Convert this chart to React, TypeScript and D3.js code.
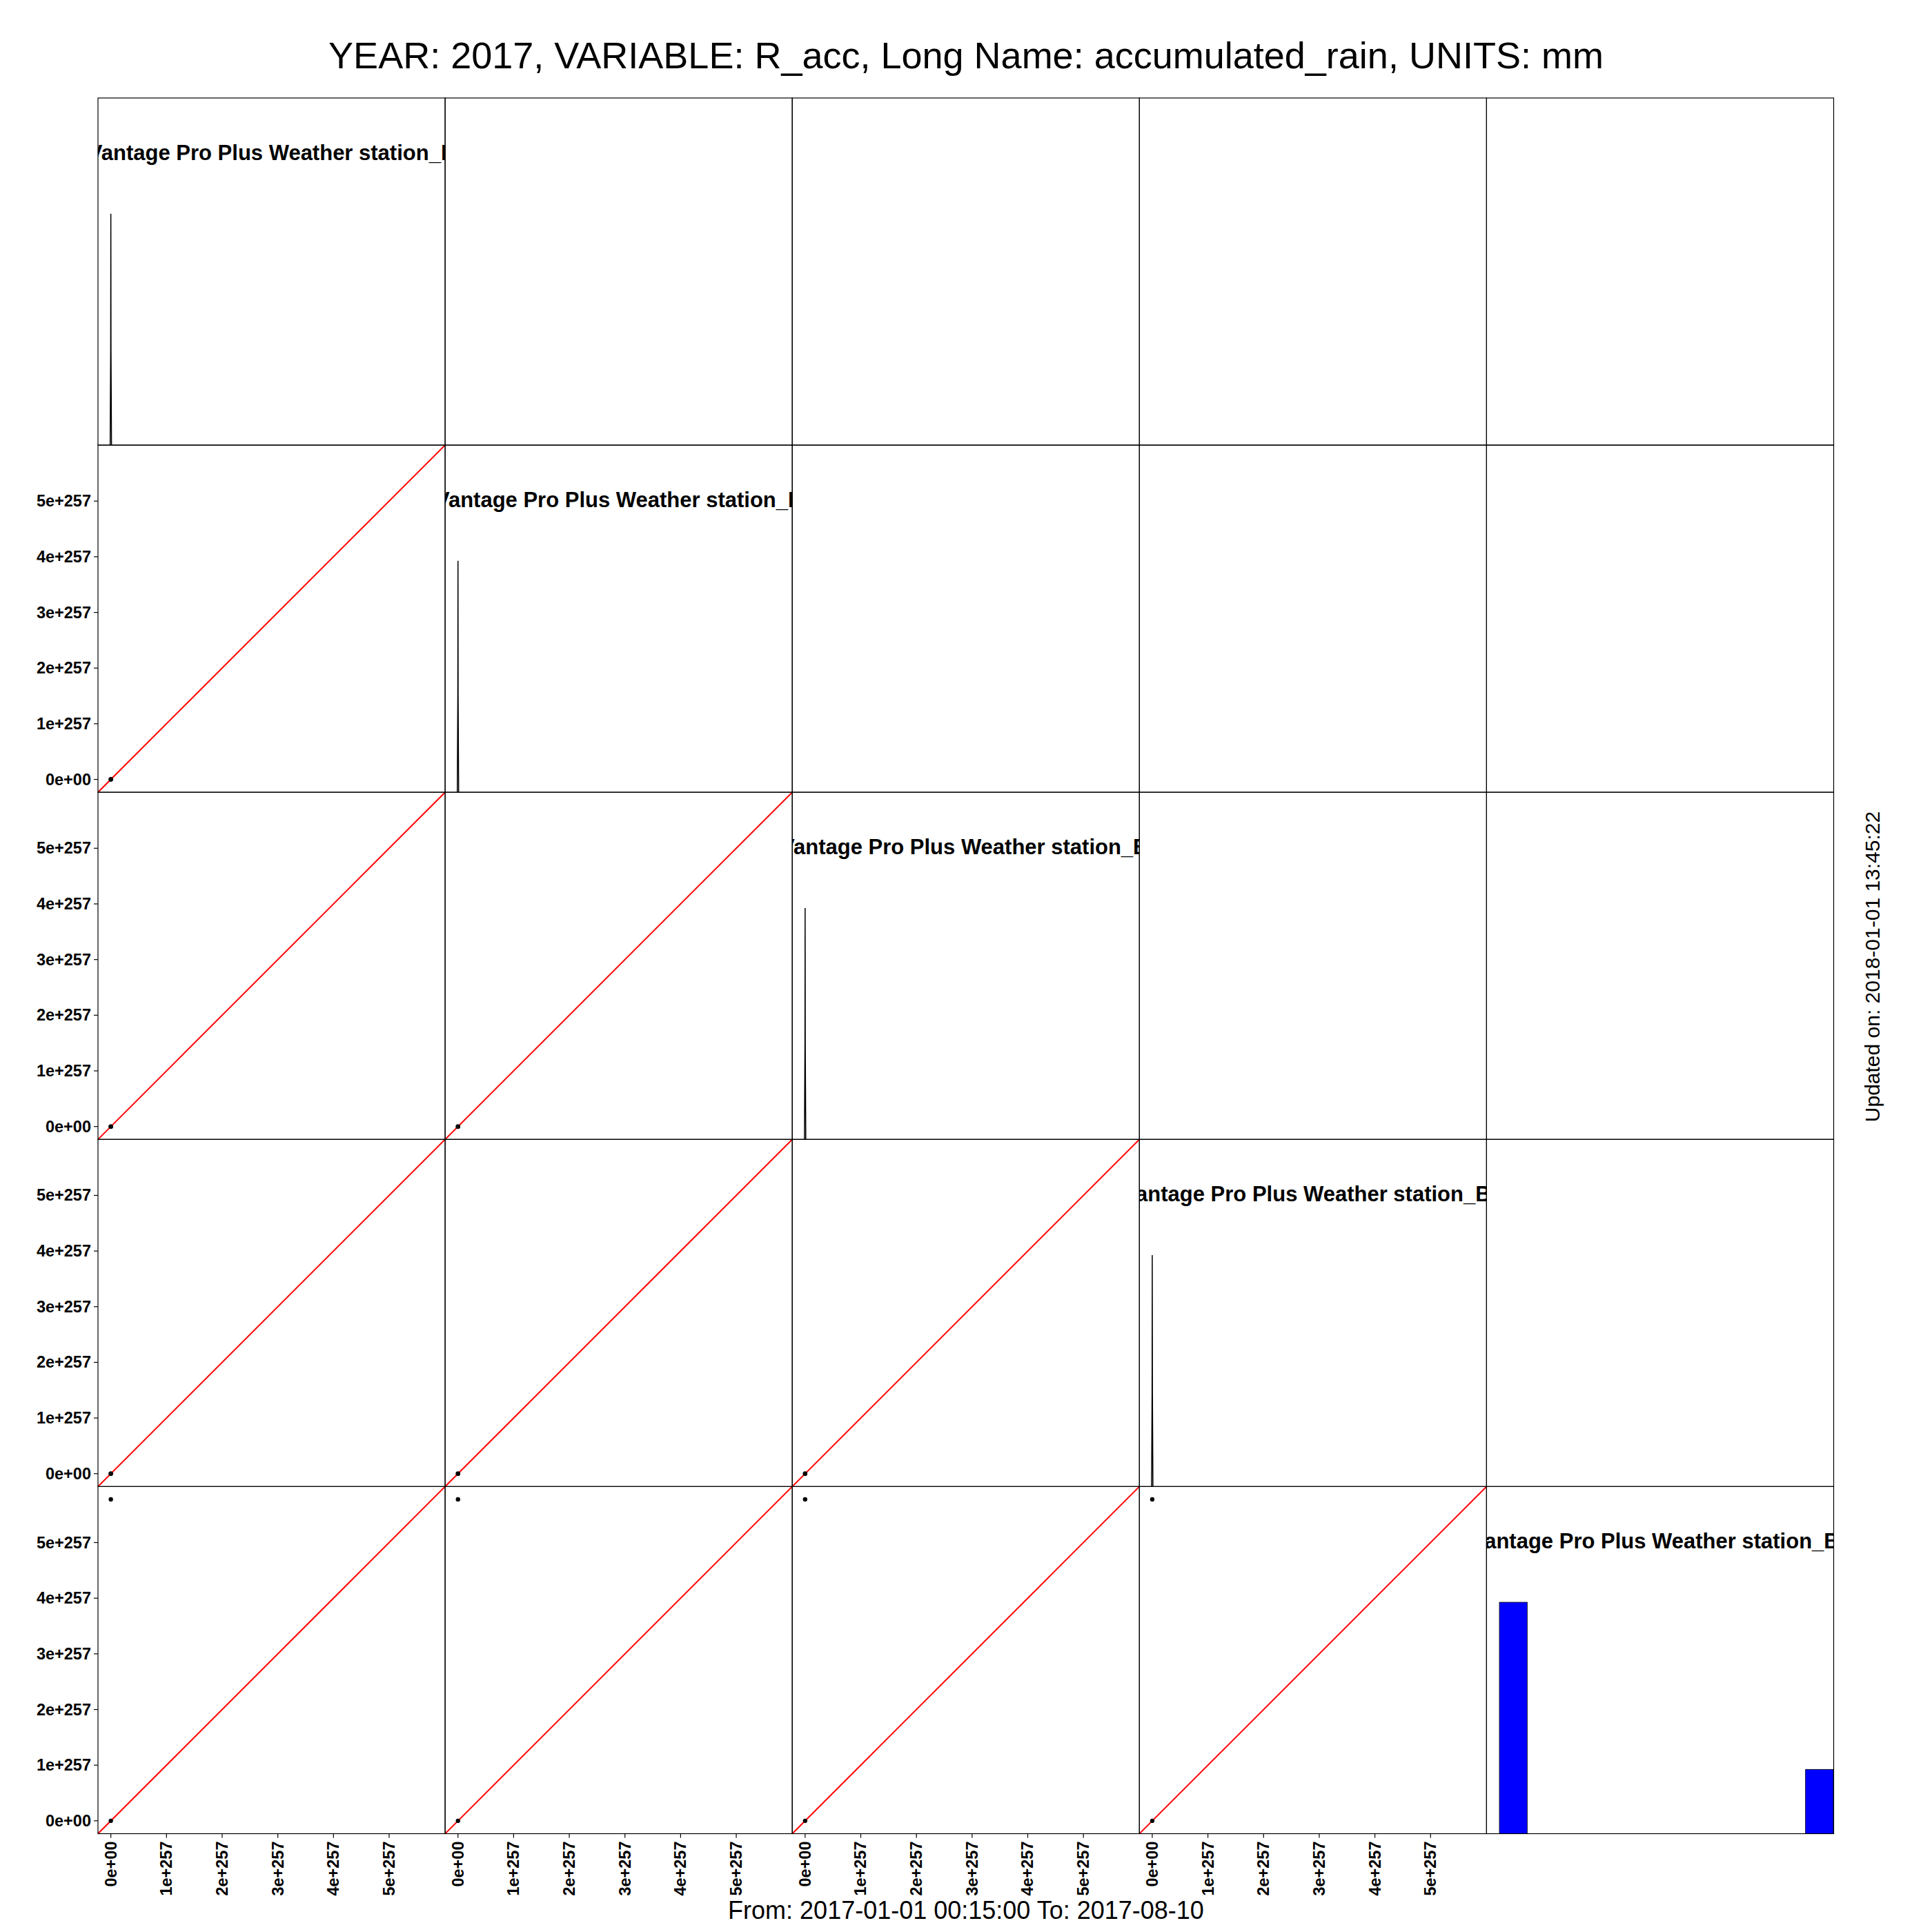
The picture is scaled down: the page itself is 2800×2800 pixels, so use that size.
import React from "react";
import * as d3 from "d3";

// ---------- data ----------
const stationNames = [
  "Vantage Pro Plus Weather station_B",
  "Vantage Pro Plus Weather station_B",
  "Vantage Pro Plus Weather station_B",
  "Vantage Pro Plus Weather station_B",
  "Vantage Pro Plus Weather station_B",
];
const maxValue = 5.775e257;
// observed sample pairs per station (accumulated rain, mm)
const station1 = [0, 0];
const station2 = [0, 0];
const station3 = [0, 0];
const station4 = [0, 0];
const station5 = [0, 5.775e257];
const observations = [station1, station2, station3, station4, station5];

// density curve of stations 1-4 (normalised to peak 1)
const densityX = [-1.2e255, -3e254, 0, 3e254, 1.2e255];
const densityY = [0, 0.41, 1, 0.41, 0];

// histogram of station 5
const histBreaks = [0, 5e256, 1e257, 1.5e257, 2e257, 2.5e257, 3e257, 3.5e257, 4e257, 4.5e257, 5e257, 5.5e257, 6e257];
const histCounts = [18, 0, 0, 0, 0, 0, 0, 0, 0, 0, 0, 5];

const tickValues = [0, 1e257, 2e257, 3e257, 4e257, 5e257];
const tickLabels = ["0e+00", "1e+257", "2e+257", "3e+257", "4e+257", "5e+257"];

const mainTitle = "YEAR: 2017, VARIABLE: R_acc, Long Name: accumulated_rain, UNITS: mm";
const bottomText = "From: 2017-01-01 00:15:00 To: 2017-08-10";
const sideText = "Updated on: 2018-01-01 13:45:22";

// ---------- layout ----------
const W = 2800;
const gridLeft = 142;
const gridTop = 142;
const cell = 503.1;
const n = 5;
const titleShift = [1, 1, -2, -9, -7];
const FONT = "'Liberation Sans', Arial, Helvetica, sans-serif";

export default function App() {
  const x = d3.scaleLinear().domain([-0.04 * maxValue, 1.04 * maxValue]).range([0, cell]);
  const y = d3.scaleLinear().domain([-0.04 * maxValue, 1.04 * maxValue]).range([cell, 0]);
  const dy = d3.scaleLinear().domain([0, 1.5]).range([cell, 0]);
  const hy = d3.scaleLinear().domain([0, 1.5 * (d3.max(histCounts) as number)]).range([cell, 0]);

  const densityLine = d3
    .line<number>()
    .x((_, i) => x(densityX[i]))
    .y((d) => dy(d))(densityY) as string;

  const panels: React.ReactNode[] = [];
  for (let r = 0; r < n; r++) {
    for (let c = 0; c < n; c++) {
      const px = gridLeft + c * cell;
      const py = gridTop + r * cell;
      const id = `clip-${r}-${c}`;
      const content: React.ReactNode[] = [];
      if (r === c) {
        if (r < n - 1) {
          content.push(
            <path key="dens" d={densityLine} fill="none" stroke="#000" strokeWidth={1.5} />
          );
        } else {
          histCounts.forEach((cnt, i) => {
            if (cnt <= 0) return;
            content.push(
              <rect
                key={`h${i}`}
                x={x(histBreaks[i])}
                y={hy(cnt)}
                width={x(histBreaks[i + 1]) - x(histBreaks[i])}
                height={cell - hy(cnt)}
                fill="#0000ff"
                stroke="#000"
                strokeWidth={0.8}
              />
            );
          });
        }
        content.push(
          <text
            key="title"
            x={cell / 2 + titleShift[r]}
            y={90}
            textAnchor="middle"
            fontFamily={FONT}
            fontWeight="bold"
            fontSize={31}
          >
            {stationNames[r]}
          </text>
        );
      } else if (r > c) {
        content.push(
          <line
            key="diag"
            x1={x(-0.04 * maxValue)}
            y1={y(-0.04 * maxValue)}
            x2={x(1.04 * maxValue)}
            y2={y(1.04 * maxValue)}
            stroke="#ff0000"
            strokeWidth={2}
          />
        );
        observations[c].forEach((v, k) => {
          content.push(
            <circle key={`p${k}`} cx={x(v)} cy={y(observations[r][k])} r={3.2} fill="#000" />
          );
        });
      }
      panels.push(
        <g key={id} transform={`translate(${px},${py})`}>
          <clipPath id={id}>
            <rect x={0} y={0} width={cell} height={cell} />
          </clipPath>
          <g clipPath={`url(#${id})`}>{content}</g>
          <rect x={0} y={0} width={cell} height={cell} fill="none" stroke="#000" strokeWidth={1.2} />
        </g>
      );
    }
  }

  // y axes (rows 2..5, column 1)
  const yAxes: React.ReactNode[] = [];
  for (let r = 1; r < n; r++) {
    const py = gridTop + r * cell;
    tickValues.forEach((t, i) => {
      const yy = py + y(t);
      yAxes.push(
        <g key={`ya-${r}-${i}`}>
          <line x1={gridLeft - 6} x2={gridLeft} y1={yy} y2={yy} stroke="#000" strokeWidth={1.2} />
          <text
            x={gridLeft - 10}
            y={yy}
            textAnchor="end"
            dominantBaseline="central"
            fontFamily={FONT}
            fontWeight="bold"
            fontSize={23.5}
          >
            {tickLabels[i]}
          </text>
        </g>
      );
    });
  }

  // x axes (columns 1..4, bottom row)
  const xAxes: React.ReactNode[] = [];
  const bottom = gridTop + n * cell;
  for (let c = 0; c < n - 1; c++) {
    const px = gridLeft + c * cell;
    tickValues.forEach((t, i) => {
      const xx = px + x(t);
      xAxes.push(
        <g key={`xa-${c}-${i}`}>
          <line x1={xx} x2={xx} y1={bottom} y2={bottom + 6} stroke="#000" strokeWidth={1.2} />
          <text
            transform={`translate(${xx},${bottom + 11}) rotate(-90)`}
            textAnchor="end"
            dominantBaseline="central"
            fontFamily={FONT}
            fontWeight="bold"
            fontSize={23.5}
          >
            {tickLabels[i]}
          </text>
        </g>
      );
    });
  }

  return (
    <svg
      width={W}
      height={W}
      viewBox={`0 0 ${W} ${W}`}
      style={{ position: "absolute", left: 0, top: 0, background: "#fff" }}
    >
      <rect x={0} y={0} width={W} height={W} fill="#fff" />
      <text x={1400} y={99} textAnchor="middle" fontFamily={FONT} fontSize={54}>
        {mainTitle}
      </text>
      {panels}
      {yAxes}
      {xAxes}
      <text x={1400} y={2781} textAnchor="middle" fontFamily={FONT} fontSize={36}>
        {bottomText}
      </text>
      <text
        transform={`translate(2724,1401) rotate(-90)`}
        textAnchor="middle"
        fontFamily={FONT}
        fontSize={30}
      >
        {sideText}
      </text>
    </svg>
  );
}
